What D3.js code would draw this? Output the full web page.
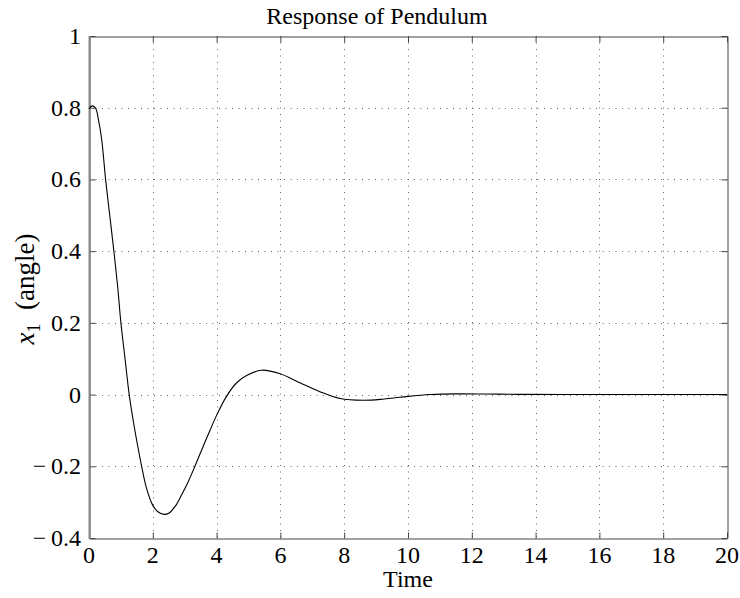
<!DOCTYPE html>
<html>
<head>
<meta charset="utf-8">
<script src="https://cdn.jsdelivr.net/npm/d3@7"></script>
<style>
  html, body { margin: 0; padding: 0; background: #fff; }
  svg text { font-family: "Liberation Serif", "Times New Roman", serif; fill: #000; }
</style>
</head>
<body>
<svg id="chart" width="740" height="598"></svg>
<script>
// ---- data ----
const time = [0, 0.1, 0.2, 0.3, 0.4, 0.52, 0.65, 0.78, 0.9, 1.0, 1.13, 1.26, 1.4, 1.52, 1.65, 1.8, 2.0, 2.15, 2.35, 2.5, 2.7, 2.9, 3.1, 3.32, 3.58, 3.8, 4.0, 4.31, 4.63, 4.94, 5.41, 5.99, 6.61, 7.24, 7.87, 8.6, 9.2, 9.6, 10.0, 10.7, 11.5, 12.5, 13.5, 15, 17, 20];
const angle = [0.797, 0.805, 0.80, 0.765, 0.71, 0.60, 0.50, 0.40, 0.30, 0.20, 0.10, 0.0, -0.08, -0.14, -0.20, -0.26, -0.309, -0.326, -0.334, -0.331, -0.312, -0.28, -0.245, -0.20, -0.144, -0.098, -0.058, -0.005, 0.033, 0.053, 0.068, 0.058, 0.033, 0.008, -0.011, -0.016, -0.013, -0.009, -0.005, 0.0, 0.002, 0.0015, 0.0006, 0.0, 0.0, 0.0];
const xTicks = [0, 2, 4, 6, 8, 10, 12, 14, 16, 18, 20];
const yTicks = [-0.4, -0.2, 0, 0.2, 0.4, 0.6, 0.8, 1];
const titleText = "Response of Pendulum";
const xLabel = "Time";

// ---- layout ----
const svg = d3.select("#chart");
const L = 89, R = 727, T = 36, B = 538;
const x = d3.scaleLinear().domain([0, 20]).range([L, R]);
const y = d3.scaleLinear().domain([-0.4, 1]).range([B, T]);

const fmtY = v => {
  if (v === 0) return "0";
  const s = Math.abs(v) === 1 ? "1" : Math.abs(v).toFixed(1);
  return (v < 0 ? "\u2212\u2009" : "") + s;
};
const fmtX = v => String(v);

// grid
const grid = svg.append("g").attr("stroke", "#666").attr("stroke-width", 1)
  .attr("stroke-dasharray", "1,5.5");
grid.selectAll(".gx").data(xTicks.filter(d => d > 0 && d < 20)).join("line")
  .attr("x1", d => Math.round(x(d)) + 0.5).attr("x2", d => Math.round(x(d)) + 0.5)
  .attr("y1", T).attr("y2", B);
grid.selectAll(".gy").data(yTicks.filter(d => d > -0.4 && d < 1)).join("line")
  .attr("y1", d => Math.round(y(d)) + 0.5).attr("y2", d => Math.round(y(d)) + 0.5)
  .attr("x1", L).attr("x2", R);

// axes (inward ticks, box)
const axB = d3.axisBottom(x).tickValues(xTicks).tickSizeInner(-6).tickSizeOuter(0).tickFormat("");
const axT = d3.axisTop(x).tickValues(xTicks).tickSizeInner(-6).tickSizeOuter(0).tickFormat("");
const axL = d3.axisLeft(y).tickValues(yTicks).tickSizeInner(-6).tickSizeOuter(0).tickFormat("");
const axR = d3.axisRight(y).tickValues(yTicks).tickSizeInner(-6).tickSizeOuter(0).tickFormat("");
[[axB, `translate(0,${B + 0.5})`], [axT, `translate(0,${T + 0.5})`],
 [axL, `translate(${L + 0.5},0)`], [axR, `translate(${R + 0.5},0)`]].forEach(([ax, tr]) => {
  const g = svg.append("g").attr("transform", tr).call(ax);
  g.selectAll("path,line").attr("stroke", "#444").attr("stroke-width", 1);
});
svg.append("line").attr("x1", L + 0.5).attr("x2", L + 0.5).attr("y1", T).attr("y2", B + 1)
  .attr("stroke", "#888").attr("stroke-width", 2);

// tick labels
svg.selectAll(".xl").data(xTicks).join("text")
  .attr("x", d => x(d)).attr("y", 563).attr("text-anchor", "middle")
  .attr("font-size", 24).text(d => fmtX(d));
svg.selectAll(".yl").data(yTicks).join("text")
  .attr("x", 81).attr("y", d => y(d) + 8).attr("text-anchor", "end")
  .attr("font-size", 24).text(d => fmtY(d));

// curve
const line = d3.line().x((d, i) => x(time[i])).y(d => y(d)).curve(d3.curveCatmullRom.alpha(0.5));
svg.append("path").datum(angle).attr("d", line)
  .attr("fill", "none").attr("stroke", "#000").attr("stroke-width", 1.1);

// title & labels
svg.append("text").attr("x", 377).attr("y", 24).attr("text-anchor", "middle")
  .attr("font-size", 24).text(titleText);
svg.append("text").attr("x", (L + R) / 2).attr("y", 587).attr("text-anchor", "middle")
  .attr("font-size", 24).text(xLabel);
const yl = svg.append("text").attr("transform", "translate(34,289) rotate(-90)")
  .attr("text-anchor", "middle").attr("font-size", 27);
yl.append("tspan").attr("font-style", "italic").text("x");
yl.append("tspan").attr("font-size", 18).attr("dy", 6).text("1");
yl.append("tspan").attr("dy", -6).text("\u2002(angle)");
</script>
</body>
</html>
